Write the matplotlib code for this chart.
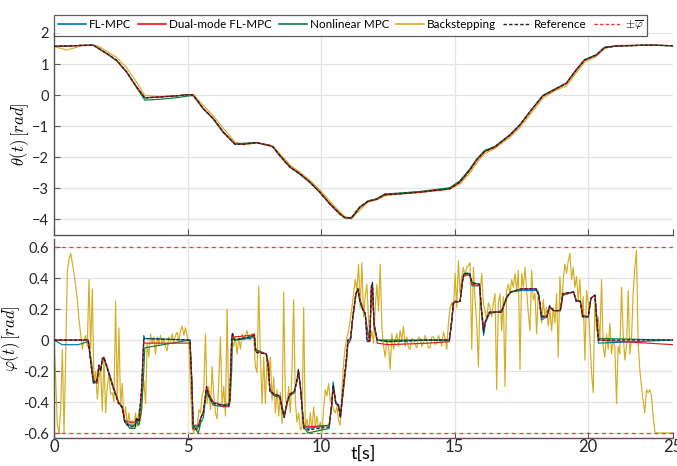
import numpy as np
import matplotlib
matplotlib.use("Agg")
import matplotlib.pyplot as plt
from matplotlib.lines import Line2D

plt.rcParams['font.family'] = ['Lato', 'DejaVu Sans']
plt.rcParams['mathtext.fontset'] = 'cm'

# ---------------- theta(t) ----------------
t_theta = [0, 0.47, 1.0, 1.47, 1.72, 2.03, 2.34, 2.72, 3.09, 3.40,
           4.0, 4.6, 5.09, 5.21, 5.59, 5.96, 6.33, 6.77, 7.08, 7.58,
           8.08, 8.20, 8.45, 8.83, 9.20, 9.58, 9.95, 10.32, 10.70, 10.88,
           11.13, 11.45, 11.76, 12.07, 12.38, 12.94, 13.69, 14.81, 15.19, 15.56,
           15.81, 16.12, 16.5, 17.06, 17.43, 17.87, 18.3, 18.74, 19.18, 19.55,
           19.86, 20.3, 20.61, 21.05, 22.29, 23.17]
theta_ref = [1.57, 1.58, 1.60, 1.61, 1.48, 1.31, 1.13, 0.75, 0.27, -0.09,
             -0.06, -0.02, 0.02, 0.0, -0.43, -0.75, -1.18, -1.58, -1.58, -1.53,
             -1.63, -1.67, -1.94, -2.31, -2.53, -2.8, -3.12, -3.49, -3.82, -3.94,
             -3.95, -3.6, -3.41, -3.35, -3.2, -3.17, -3.12, -3.01, -2.8, -2.42,
             -2.1, -1.81, -1.67, -1.29, -0.97, -0.48, -0.02, 0.18, 0.38, 0.81,
             1.13, 1.29, 1.53, 1.58, 1.61, 1.59]
theta_fl = [1.57, 1.58, 1.60, 1.61, 1.47, 1.30, 1.12, 0.74, 0.26, -0.09,
            -0.06, -0.02, 0.02, 0.0, -0.44, -0.76, -1.19, -1.58, -1.57, -1.53,
            -1.62, -1.67, -1.95, -2.32, -2.54, -2.81, -3.13, -3.5, -3.83, -3.94,
            -3.94, -3.59, -3.4, -3.34, -3.19, -3.16, -3.11, -3.0, -2.78, -2.4,
            -2.08, -1.79, -1.66, -1.28, -0.96, -0.47, -0.01, 0.19, 0.39, 0.82,
            1.14, 1.3, 1.54, 1.58, 1.61, 1.59]
theta_dual = [1.57, 1.58, 1.60, 1.61, 1.48, 1.31, 1.12, 0.75, 0.27, -0.08,
              -0.05, -0.02, 0.02, 0.0, -0.43, -0.75, -1.17, -1.57, -1.57, -1.53,
              -1.63, -1.67, -1.93, -2.3, -2.52, -2.79, -3.11, -3.48, -3.81, -3.93,
              -3.95, -3.61, -3.42, -3.36, -3.21, -3.18, -3.13, -3.02, -2.81, -2.43,
              -2.11, -1.82, -1.68, -1.3, -0.98, -0.49, -0.03, 0.17, 0.37, 0.8,
              1.12, 1.28, 1.52, 1.58, 1.61, 1.59]
theta_nl = [1.57, 1.58, 1.60, 1.61, 1.47, 1.30, 1.11, 0.73, 0.24, -0.16,
            -0.13, -0.08, -0.02, -0.02, -0.45, -0.77, -1.2, -1.56, -1.55, -1.52,
            -1.62, -1.68, -1.95, -2.32, -2.54, -2.81, -3.13, -3.5, -3.83, -3.95,
            -3.97, -3.62, -3.41, -3.34, -3.18, -3.15, -3.1, -2.98, -2.76, -2.38,
            -2.07, -1.78, -1.65, -1.28, -0.96, -0.47, -0.01, 0.19, 0.39, 0.82,
            1.14, 1.3, 1.54, 1.59, 1.61, 1.59]
theta_bs = [1.57, 1.45, 1.58, 1.61, 1.55, 1.38, 1.22, 0.88, 0.42, -0.01,
            -0.04, -0.02, 0.01, 0.02, -0.33, -0.66, -1.06, -1.5, -1.6, -1.54,
            -1.6, -1.64, -1.88, -2.24, -2.48, -2.74, -3.05, -3.41, -3.75, -3.9,
            -3.98, -3.7, -3.44, -3.37, -3.24, -3.18, -3.13, -3.03, -2.86, -2.52,
            -2.2, -1.88, -1.72, -1.36, -1.05, -0.58, -0.1, 0.14, 0.3, 0.72,
            1.06, 1.25, 1.5, 1.6, 1.61, 1.59]

# ---------------- phi(t) ----------------
t_phi = [0, 0.3, 0.9, 1.28, 1.41, 1.47, 1.60, 1.68, 1.75, 1.80,
         1.87, 1.97, 2.20, 2.41, 2.55, 2.65, 2.84, 3.03, 3.09, 3.18,
         3.28, 3.36, 3.40, 5.09, 5.16, 5.21, 5.40, 5.50, 5.59, 5.71,
         5.80, 5.96, 6.33, 6.55, 6.58, 6.65, 6.68, 6.75, 7.33, 7.50,
         7.55, 7.95, 8.03, 8.08, 8.25, 8.45, 8.55, 8.62, 8.72, 8.82,
         9.00, 9.10, 9.15, 9.22, 9.35, 9.50, 10.30, 10.40, 10.45, 10.55,
         10.65, 10.72, 10.80, 10.95, 11.00, 11.10, 11.18, 11.30, 11.38, 11.44,
         11.55, 11.65, 11.72, 11.82, 11.88, 11.92, 11.98, 12.10, 12.50, 14.00,
         14.80, 14.90, 14.95, 15.20, 15.30, 15.35, 15.56, 15.65, 15.93, 16.00,
         16.08, 16.15, 16.30, 16.75, 16.95, 17.10, 17.50, 18.05, 18.15, 18.25,
         18.45, 18.55, 18.70, 18.95, 19.05, 19.45, 19.55, 19.70, 19.80, 20.00,
         20.10, 20.25, 20.38, 23.17]
phi_ref = [0, 0, 0, 0, -0.2, -0.27, -0.27, -0.16, -0.2, -0.12,
           -0.11, -0.17, -0.3, -0.41, -0.43, -0.53, -0.56, -0.56, -0.5, -0.53,
           -0.3, 0.0, 0.01, 0.0, -0.3, -0.58, -0.57, -0.5, -0.47, -0.3,
           -0.36, -0.41, -0.42, -0.42, -0.38, 0.0, 0.05, 0.0, 0.02, 0.03,
           -0.08, -0.09, -0.2, -0.33, -0.35, -0.36, -0.45, -0.5, -0.4, -0.35,
           -0.33, -0.25, -0.19, -0.3, -0.57, -0.58, -0.56, -0.4, -0.29, -0.41,
           -0.42, -0.5, -0.35, -0.1, 0.0, 0.01, 0.15, 0.3, 0.33, 0.26,
           0.2, 0.17, -0.01, 0.0, 0.35, 0.37, 0.1, 0.0, -0.01, 0.0,
           0.0, 0.15, 0.25, 0.25, 0.4, 0.43, 0.43, 0.37, 0.36, 0.2,
           0.05, 0.12, 0.18, 0.18, 0.28, 0.31, 0.33, 0.33, 0.29, 0.15,
           0.15, 0.22, 0.19, 0.19, 0.3, 0.31, 0.25, 0.25, 0.15, 0.15,
           0.27, 0.29, 0.0, 0.0]
phi_fl = [0, -0.03, -0.03, -0.01, -0.19, -0.28, -0.27, -0.17, -0.19, -0.13,
          -0.12, -0.17, -0.3, -0.4, -0.44, -0.52, -0.55, -0.55, -0.51, -0.52,
          -0.32, 0.03, 0.01, 0.0, -0.28, -0.56, -0.56, -0.5, -0.47, -0.31,
          -0.36, -0.4, -0.42, -0.41, -0.37, 0.02, 0.03, 0.0, 0.01, 0.02,
          -0.07, -0.09, -0.19, -0.33, -0.36, -0.36, -0.44, -0.49, -0.4, -0.36,
          -0.33, -0.26, -0.2, -0.3, -0.56, -0.57, -0.55, -0.41, -0.27, -0.4,
          -0.42, -0.49, -0.36, -0.11, 0.0, 0.01, 0.14, 0.3, 0.33, 0.26,
          0.2, 0.17, -0.01, -0.01, 0.33, 0.36, 0.1, 0.0, -0.01, 0.0,
          0.0, 0.14, 0.24, 0.25, 0.39, 0.42, 0.42, 0.35, 0.35, 0.19,
          0.03, 0.11, 0.17, 0.19, 0.28, 0.31, 0.32, 0.32, 0.29, 0.13,
          0.15, 0.21, 0.19, 0.19, 0.29, 0.31, 0.25, 0.25, 0.15, 0.15,
          0.27, 0.29, -0.02, 0.0]
phi_dual = [0, 0, 0, 0, -0.18, -0.26, -0.28, -0.17, -0.2, -0.13,
            -0.11, -0.17, -0.29, -0.4, -0.43, -0.52, -0.53, -0.53, -0.51, -0.52,
            -0.33, -0.01, -0.02, -0.02, -0.28, -0.55, -0.55, -0.5, -0.46, -0.3,
            -0.35, -0.4, -0.43, -0.42, -0.38, -0.01, 0.03, 0.02, 0.03, 0.04,
            -0.07, -0.09, -0.15, -0.32, -0.35, -0.36, -0.44, -0.49, -0.41, -0.35,
            -0.33, -0.26, -0.2, -0.3, -0.55, -0.56, -0.55, -0.41, -0.3, -0.41,
            -0.42, -0.5, -0.37, -0.13, -0.02, 0.0, 0.14, 0.29, 0.33, 0.27,
            0.21, 0.17, 0.05, -0.01, 0.33, 0.36, 0.12, -0.02, -0.03, -0.02,
            -0.01, 0.13, 0.24, 0.25, 0.38, 0.42, 0.42, 0.36, 0.35, 0.21,
            0.08, 0.12, 0.18, 0.18, 0.27, 0.31, 0.33, 0.33, 0.29, 0.16,
            0.15, 0.21, 0.19, 0.19, 0.29, 0.31, 0.26, 0.25, 0.16, 0.15,
            0.27, 0.29, 0.0, -0.03]
phi_nl = [0, 0, 0, 0, -0.15, -0.25, -0.28, -0.18, -0.19, -0.14,
          -0.12, -0.16, -0.29, -0.4, -0.43, -0.53, -0.57, -0.57, -0.52, -0.55,
          -0.45, -0.2, -0.05, 0.0, -0.25, -0.55, -0.6, -0.53, -0.5, -0.33,
          -0.37, -0.42, -0.43, -0.43, -0.4, -0.2, 0.02, 0.0, 0.02, 0.03,
          -0.06, -0.09, -0.18, -0.32, -0.36, -0.37, -0.46, -0.5, -0.41, -0.36,
          -0.34, -0.26, -0.2, -0.29, -0.56, -0.6, -0.57, -0.41, -0.3, -0.41,
          -0.43, -0.5, -0.38, -0.14, -0.03, 0.0, 0.13, 0.29, 0.33, 0.26,
          0.2, 0.17, 0.08, 0.0, 0.34, 0.36, 0.08, 0.0, 0.0, 0.0,
          0.0, 0.14, 0.24, 0.25, 0.39, 0.43, 0.43, 0.37, 0.36, 0.2,
          0.06, 0.12, 0.18, 0.18, 0.28, 0.31, 0.33, 0.33, 0.29, 0.15,
          0.15, 0.22, 0.19, 0.19, 0.3, 0.31, 0.25, 0.25, 0.15, 0.15,
          0.27, 0.29, 0.01, 0.0]

# backstepping steering angle, sampled every dt_bs seconds
dt_bs = 0.0623
phi_bs = [
    0.0, -0.25, -0.55, -0.6, -0.45, -0.06, -0.6, -0.1, 0.45, 0.52,
    0.56, 0.5, 0.43, 0.35, 0.26, 0.13, 0.04, -0.06, 0.0, 0.03,
    -0.04, 0.39, -0.06, 0.33, -0.28, -0.2, -0.38, -0.25, -0.17, -0.46,
    -0.11, -0.47, -0.3, -0.22, -0.35, -0.34, -0.4, 0.25, -0.39, 0.08,
    -0.43, -0.28, -0.52, -0.43, -0.55, -0.47, -0.56, -0.52, -0.56, -0.47,
    -0.56, -0.45, -0.52, -0.34, -0.26, -0.41, -0.02, -0.11, 0.04, -0.02,
    0.02, -0.09, 0.02, -0.03, 0.03, -0.02, 0.01, -0.04, -0.07, 0.02,
    -0.01, 0.04, -0.02, 0.03, 0.05, -0.01, 0.06, 0.09, 0.03, 0.08,
    0.02, -0.02, -0.3, -0.56, -0.6, -0.55, -0.58, -0.45, -0.47, -0.36,
    -0.32, 0.04, -0.41, -0.3, -0.45, -0.17, -0.36, -0.47, -0.51, -0.26,
    0.02, -0.43, -0.3, -0.49, 0.2, -0.43, -0.39, 0.0, -0.04, 0.02,
    -0.09, 0.02, -0.06, 0.04, 0.0, 0.03, 0.06, 0.01, 0.0, 0.04,
    0.03, -0.17, -0.21, 0.35,
    -0.1, -0.41, -0.11, -0.41, -0.13, -0.26, -0.11, -0.39, -0.24, -0.47,
    -0.32, -0.49, -0.34, -0.54, 0.31, -0.36, -0.43, -0.3, -0.47, -0.19,
    0.26, -0.39, -0.53, -0.47, -0.58, -0.56, 0.21, -0.56, -0.51, -0.59,
    -0.47, -0.58, -0.43, -0.56, -0.49, -0.58, -0.53, -0.6, -0.45, -0.32,
    -0.36, -0.28, -0.39, -0.41, -0.45, -0.47, -0.43, -0.52, -0.55, -0.32,
    -0.15, -0.04, 0.02, 0.06, 0.13, 0.21, 0.3, 0.39, 0.32, 0.49,
    0.21, 0.5, 0.15, 0.28, 0.36, 0.13, 0.0, 0.06, -0.02, 0.21,
    0.36, 0.19, 0.49, 0.09, -0.04, -0.11, 0.0, -0.04, -0.19, 0.04,
    -0.06, 0.0, 0.04, -0.04, 0.06, 0.0, 0.09, -0.04, 0.02, -0.05,
    -0.06, 0.01, 0.0, -0.03, -0.05, 0.02, 0.01, -0.04, -0.02, 0.03,
    0.0, -0.05, -0.05, 0.02, 0.02, -0.03, -0.02, 0.03, 0.0, -0.04,
    0.05, 0.01, -0.06, 0.11, 0.21, 0.24, 0.19, 0.43, 0.21, 0.51,
    0.3, 0.41, 0.47, 0.41, 0.47, 0.48,
    0.5, -0.06, 0.47, 0.26, 0.11, -0.17, 0.3, 0.43, 0.24, 0.19,
    0.13, 0.24, 0.21, 0.15, 0.24, 0.3, -0.32, 0.24, 0.3, 0.06,
    0.28, -0.3, 0.32, 0.36, 0.3, 0.39, 0.34, 0.43, 0.32, 0.45,
    -0.19, 0.43, 0.34, 0.47, 0.32, 0.17, 0.06, 0.45, 0.26, 0.3,
    0.04, 0.32, 0.21, 0.11, 0.26, 0.15, 0.21, 0.09, 0.19, 0.06,
    0.21, 0.11, 0.3, -0.11, 0.41, 0.21, 0.39, 0.49, 0.43, 0.51,
    0.56, 0.39, 0.47, 0.34, 0.41, 0.26, 0.39, 0.15, 0.28, -0.13,
    0.32, 0.24, 0.02, -0.21, -0.34, 0.26, 0.06, 0.15, 0.0, 0.39,
    -0.04, -0.11, 0.04, -0.06, 0.11, -0.09, 0.0, -0.04, -0.41, -0.04,
    -0.09, 0.34, 0.04, -0.13, -0.04, 0.32, -0.09, 0.0, 0.3, 0.47,
    0.58, -0.02, -0.19, -0.3, -0.39, -0.47, -0.32, -0.34, -0.32, -0.36,
    -0.49, -0.59, -0.6, -0.6, -0.6, -0.6, -0.6, -0.6, -0.6, -0.6,
    -0.6, -0.6, -0.6]
phi_max = 0.6

x_ticks = [0, 5, 10, 15, 20, 23.17]
x_ticklabels = ['0', '5', '10', '15', '20', '25']

c_fl = '#0072BD'
c_dual = '#E8191C'
c_nl = '#0B7A3A'
c_bs = '#D4AE24'
c_lim = '#F03A3A'
c_ref = '#222222'

t_bs = np.arange(len(phi_bs)) * dt_bs

fig = plt.figure(figsize=(6.77, 4.66), dpi=100)
ax1 = fig.add_axes([0.0798, 0.4957, 0.9142, 0.4335])
ax2 = fig.add_axes([0.0798, 0.0601, 0.9142, 0.4270])

lw = 0.85
dash_ref = (0, (2.5, 1.5))
# --- theta ---
ax1.plot(t_theta, theta_bs, color=c_bs, lw=lw, zorder=2)
ax1.plot(t_theta, theta_fl, color=c_fl, lw=lw, zorder=3)
ax1.plot(t_theta, theta_nl, color=c_nl, lw=lw, zorder=3)
ax1.plot(t_theta, theta_dual, color=c_dual, lw=lw, zorder=4)
ax1.plot(t_theta, theta_ref, color=c_ref, lw=0.9, ls=dash_ref, zorder=5)

# --- phi ---
ax2.plot(t_bs, phi_bs, color=c_bs, lw=lw, zorder=2)
ax2.plot(t_phi, phi_fl, color=c_fl, lw=lw, zorder=3)
ax2.plot(t_phi, phi_nl, color=c_nl, lw=lw, zorder=3)
ax2.plot(t_phi, phi_dual, color=c_dual, lw=lw, zorder=4)
ax2.plot(t_phi, phi_ref, color=c_ref, lw=0.9, ls=dash_ref, zorder=5)
ax2.axhline(phi_max, color=c_lim, lw=0.9, ls=(0, (3, 3)), zorder=6)
ax2.axhline(-phi_max, color=c_lim, lw=0.9, ls=(0, (3, 3)), zorder=6)

for ax in (ax1, ax2):
    ax.set_xlim(0, 23.17)
    ax.set_xticks(x_ticks)
    ax.grid(True, color='#E3E3E3', lw=0.9)
    ax.set_axisbelow(True)
    for s in ('top', 'right'):
        ax.spines[s].set_visible(False)
    for s in ('left', 'bottom'):
        ax.spines[s].set_color('#555555')
        ax.spines[s].set_linewidth(1.0)
    ax.tick_params(direction='in', length=4, width=0.8, color='#555555',
                   labelcolor='#262626', labelsize=10.5)

ax1.set_ylim(-4.5, 2.0)
ax1.set_yticks([-4, -3, -2, -1, 0, 1, 2])
ax1.set_xticklabels([])
ax1.set_ylabel(r'$\theta(t)\,[rad]$', fontsize=12, labelpad=1)

ax2.set_ylim(-0.632, 0.652)
ax2.set_yticks([-0.6, -0.4, -0.2, 0, 0.2, 0.4, 0.6])
ax2.set_yticklabels(['-0.6', '-0.4', '-0.2', '0', '0.2', '0.4', '0.6'])
ax2.set_xticklabels(x_ticklabels)
ax2.tick_params(axis='x', labelsize=12, pad=1)
ax2.set_ylabel(r'$\varphi(t)\,[rad]$', fontsize=12, labelpad=1)
ax2.set_xlabel('t[s]', fontsize=13, labelpad=-7)

handles = [
    Line2D([], [], color=c_fl, lw=1.2),
    Line2D([], [], color=c_dual, lw=1.2),
    Line2D([], [], color=c_nl, lw=1.2),
    Line2D([], [], color=c_bs, lw=1.2),
    Line2D([], [], color=c_ref, lw=1.0, ls=dash_ref),
    Line2D([], [], color=c_lim, lw=1.0, ls=dash_ref),
]
labels = ['FL-MPC', 'Dual-mode FL-MPC', 'Nonlinear MPC', 'Backstepping',
          'Reference', r'$\pm\overline{\varphi}$']
leg = fig.legend(handles, labels, loc='upper left', ncol=6,
                 bbox_to_anchor=(0.0798, 0.968), fontsize=8.4, frameon=True,
                 fancybox=False, edgecolor='#333333', borderpad=0.3,
                 handlelength=2.4, handletextpad=0.25, columnspacing=0.6,
                 borderaxespad=0)
leg.get_frame().set_linewidth(0.9)

fig.savefig('out.png', dpi=100)
